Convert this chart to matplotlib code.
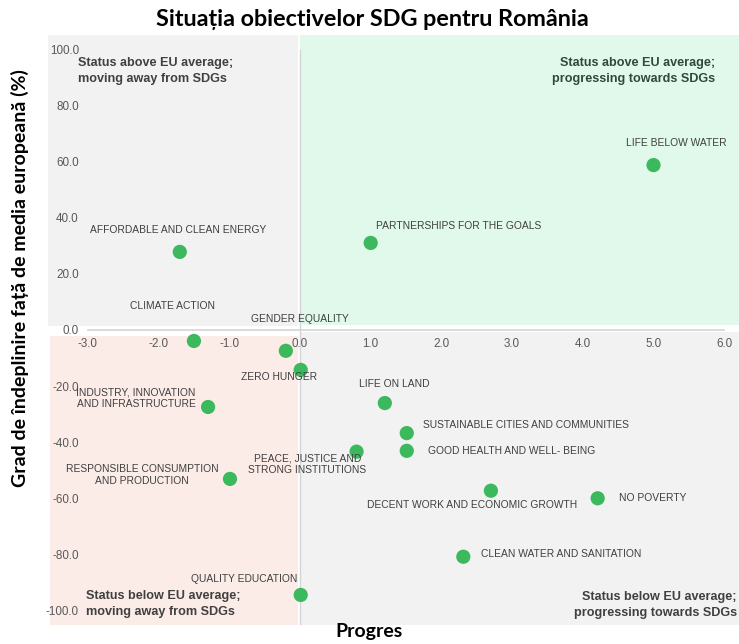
import matplotlib
matplotlib.use("Agg")
import matplotlib.pyplot as plt
from matplotlib.patches import Rectangle

plt.rcParams['axes.unicode_minus'] = False
plt.rcParams['font.family'] = ['Liberation Sans', 'DejaVu Sans']

# ---- data ----
goals = ["LIFE BELOW WATER", "PARTNERSHIPS FOR THE GOALS", "AFFORDABLE AND CLEAN ENERGY",
         "CLIMATE ACTION", "GENDER EQUALITY", "ZERO HUNGER",
         "INDUSTRY, INNOVATION\nAND INFRASTRUCTURE", "LIFE ON LAND",
         "SUSTAINABLE CITIES AND COMMUNITIES", "GOOD HEALTH AND WELL- BEING",
         "PEACE, JUSTICE AND\nSTRONG INSTITUTIONS", "RESPONSIBLE CONSUMPTION\nAND PRODUCTION",
         "DECENT WORK AND ECONOMIC GROWTH", "NO POVERTY", "CLEAN WATER AND SANITATION",
         "QUALITY EDUCATION"]
progress = [5.0, 1.0, -1.7, -1.5, -0.2, 0.01, -1.3, 1.2, 1.51, 1.51, 0.8, -0.99, 2.7, 4.21, 2.31, 0.01]
status = [58.7, 31.0, 27.8, -3.9, -7.4, -14.2, -27.4, -26.0, -36.7, -43.0, -43.3, -53.0, -57.2, -59.9, -80.7, -94.3]

x_ticks = [-3.0, -2.0, -1.0, 0.0, 1.0, 2.0, 3.0, 4.0, 5.0, 6.0]
y_ticks = [100.0, 80.0, 60.0, 40.0, 20.0, 0.0, -20.0, -40.0, -60.0, -80.0, -100.0]

quadrant_texts = ["Status above EU average;\nmoving away from SDGs",
                  "Status above EU average;\nprogressing towards SDGs",
                  "Status below EU average;\nmoving away from SDGs",
                  "Status below EU average;\nprogressing towards SDGs"]

title = "Situația obiectivelor SDG pentru România"
xlabel = "Progres"
ylabel = "Grad de îndeplinire față de media europeană (%)"

# label offsets in pixels (dx, dy), alignment
label_style = [(23, 22, 'center'), (5, 17, 'left'), (-2, 22, 'center'), (-21, 35, 'center'),
               (14, 32, 'center'), (-22, -7, 'center'), (-72, 9, 'center'), (9, 19, 'center'),
               (16, 8, 'left'), (21, 0, 'left'), (-49, -13, 'center'), (-88, 4, 'center'),
               (-19, -14, 'center'), (21, 0, 'left'), (18, 3, 'left'), (-57, 16, 'center')]

W, H = 739, 644
fig = plt.figure(figsize=(W / 100, H / 100), dpi=100)
ax = fig.add_axes([48 / W, (H - 625) / H, 691 / W, 590 / H])
ax.set_xlim(-3.564, 6.209)
ax.set_ylim(-105.0, 105.0)

gray = '#f2f2f2'
ax.add_patch(Rectangle((-3.564, 1.5), 3.534, 103.5, facecolor=gray, edgecolor='none', zorder=0))
ax.add_patch(Rectangle((0.0, 1.8), 6.3, 103.2, facecolor='#e0f9ea', edgecolor='none', zorder=0))
ax.add_patch(Rectangle((-3.535, -105), 3.505, 103.0, facecolor='#fcece8', edgecolor='none', zorder=0))
ax.add_patch(Rectangle((0.0, -105), 6.3, 104.3, facecolor=gray, edgecolor='none', zorder=0))

ax.plot([0, 0], [99.6, -105], color='#d4d4d4', lw=1.0, zorder=1)

for s in ['top', 'right', 'left']:
    ax.spines[s].set_visible(False)
ax.spines['bottom'].set_position(('data', 0))
ax.spines['bottom'].set_bounds(-3.0, 6.0)
ax.spines['bottom'].set_color('#d4d4d4')
ax.spines['bottom'].set_linewidth(1.2)
ax.spines['left'].set_position(('data', -3.0))

ax.set_xticks(x_ticks)
ax.set_xticklabels([f"{v:.1f}" for v in x_ticks])
ax.set_yticks(y_ticks)
ax.set_yticklabels([f"{v:.1f}" for v in y_ticks])
ax.tick_params(axis='both', length=0, labelsize=8.4, labelcolor='#595959')
ax.tick_params(axis='x', pad=6)
ax.tick_params(axis='y', pad=6.5)
ax.patch.set_alpha(0)

ax.scatter(progress, status, s=105, color='#3cb95d', edgecolors='none', zorder=3)

for g, x, y, (dx, dy, ha) in zip(goals, progress, status, label_style):
    ax.annotate(g, (x, y), xytext=(dx, dy), textcoords='offset pixels', ha=ha, va='center',
                fontsize=7.4, color='#404040', zorder=4, linespacing=1.2)

qkw = dict(fontsize=9.1, fontweight='bold', va='center', linespacing=1.55)
fig.text(78 / W, 1 - 71 / H, quadrant_texts[0], ha='left', color='#404040', **qkw)
fig.text(715 / W, 1 - 71 / H, quadrant_texts[1], ha='right', multialignment='right', color='#2e4a3b', **qkw)
fig.text(86 / W, 1 - 604 / H, quadrant_texts[2], ha='left', color='#404040', **qkw)
fig.text(737 / W, 1 - 605 / H, quadrant_texts[3], ha='right', multialignment='right', color='#404040', **qkw)

fig.text(372 / W, 1 - 19 / H, title, ha='center', va='center', fontsize=16.8, fontweight='bold',
         family=['Lato', 'DejaVu Sans'], color='#000000')
fig.text(369 / W, 1 - 632 / H, xlabel, ha='center', va='center', fontsize=14, fontweight='bold',
         family=['Lato', 'DejaVu Sans'])
fig.text(20 / W, 1 - 278 / H, ylabel, ha='center', va='center', rotation=90, fontsize=14,
         fontweight='bold', family=['Lato', 'DejaVu Sans'])

fig.savefig('out.png', dpi=100)
